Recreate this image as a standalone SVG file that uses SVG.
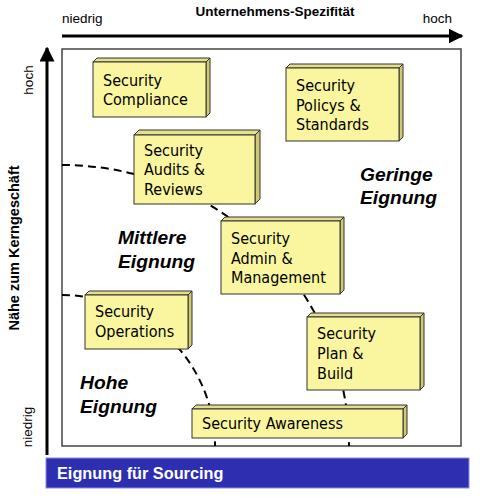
<svg xmlns="http://www.w3.org/2000/svg" width="482" height="502" viewBox="0 0 482 502">
<style>
.ax{font-family:"Liberation Sans",Arial,sans-serif;font-size:13.5px;fill:#000}
.axb{font-family:"Liberation Sans",Arial,sans-serif;font-size:13.5px;font-weight:bold;fill:#000}
.bx{font-family:"DejaVu Sans Condensed","DejaVu Sans",sans-serif;font-stretch:condensed;font-size:16px;fill:#000}
.rg{font-family:"Liberation Sans",Arial,sans-serif;font-size:17.5px;font-weight:bold;font-style:italic;fill:#000}
.front{fill:#FAF6A0;stroke:#333;stroke-width:1}
.top{fill:#E4DF8C;stroke:#333;stroke-width:1}
.side{fill:#CFC973;stroke:#333;stroke-width:1}
.dash{fill:none;stroke:#000;stroke-width:2;stroke-dasharray:8 5}
</style>
<defs>
<marker id="ah" viewBox="0 0 10 10" refX="9" refY="5" markerWidth="5" markerHeight="5" markerUnits="strokeWidth" orient="auto">
<path d="M0,0 L10,5 L0,10 z" fill="#000"/>
</marker>
</defs>
<rect width="482" height="502" fill="#fff"/>

<!-- axes -->
<g id="axes">
<line x1="62" y1="36" x2="462" y2="36" stroke="#000" stroke-width="3" marker-end="url(#ah)"/>
<line x1="47" y1="455" x2="47" y2="48" stroke="#000" stroke-width="3" marker-end="url(#ah)"/>
<text class="axb" x="275" y="16" text-anchor="middle">Unternehmens-Spezifität</text>
<text class="ax" x="62" y="23">niedrig</text>
<text class="ax" x="452" y="23" text-anchor="end">hoch</text>
<text class="ax" transform="translate(33,80) rotate(-90)" text-anchor="middle">hoch</text>
<text class="ax" transform="translate(32,427) rotate(-90)" text-anchor="middle">niedrig</text>
<text class="axb" style="font-size:14.5px" transform="translate(19,248) rotate(-90)" text-anchor="middle">Nähe zum Kerngeschäft</text>
</g>

<!-- frame -->
<rect id="frame" x="62" y="49" width="399" height="397" fill="#fff" stroke="#444" stroke-width="1.5"/>

<!-- connectors (dashed boundaries) -->
<g id="connectors">
<path class="dash" d="M62,165 A287,281 0 0 1 349,446"/>
<path class="dash" d="M62,295 A153,151 0 0 1 215,446"/>
</g>

<!-- region labels -->
<g id="region-geringe">
<text class="rg" transform="translate(360,181) scale(1.1,1)">Geringe</text>
<text class="rg" transform="translate(360,204) scale(1.1,1)">Eignung</text>
</g>
<g id="region-mittlere">
<text class="rg" transform="translate(118,244) scale(1.1,1)">Mittlere</text>
<text class="rg" transform="translate(118,268) scale(1.1,1)">Eignung</text>
</g>
<g id="region-hohe">
<text class="rg" transform="translate(80,389) scale(1.1,1)">Hohe</text>
<text class="rg" transform="translate(80,413) scale(1.1,1)">Eignung</text>
</g>

<!-- boxes -->
<g id="compliance">
<polygon class="top" points="93,62 97,58 210,58 206,62"/>
<polygon class="side" points="206,62 210,58 210,113 206,117"/>
<rect class="front" x="93" y="62" width="113" height="55"/>
<text class="bx" x="103" y="86">Security</text>
<text class="bx" x="103" y="105">Compliance</text>
</g>

<g id="policys">
<polygon class="top" points="286,68 290,64 403,64 399,68"/>
<polygon class="side" points="399,68 403,64 403,137 399,141"/>
<rect class="front" x="286" y="68" width="113" height="73"/>
<text class="bx" x="296" y="91">Security</text>
<text class="bx" x="296" y="111">Policys &amp;</text>
<text class="bx" x="296" y="130">Standards</text>
</g>

<g id="audits">
<polygon class="top" points="134,135 139,130 260,130 255,135"/>
<polygon class="side" points="255,135 260,130 260,199 255,204"/>
<rect class="front" x="134" y="135" width="121" height="69"/>
<text class="bx" x="144" y="156">Security</text>
<text class="bx" x="144" y="175">Audits &amp;</text>
<text class="bx" x="144" y="195">Reviews</text>
</g>

<g id="admin">
<polygon class="top" points="221,221 225,217 344,217 340,221"/>
<polygon class="side" points="340,221 344,217 344,290 340,294"/>
<rect class="front" x="221" y="221" width="119" height="73"/>
<text class="bx" x="231" y="244">Security</text>
<text class="bx" x="231" y="264">Admin &amp;</text>
<text class="bx" x="231" y="283">Management</text>
</g>

<g id="operations">
<polygon class="top" points="85,295 89,291 192,291 188,295"/>
<polygon class="side" points="188,295 192,291 192,345 188,349"/>
<rect class="front" x="85" y="295" width="103" height="54"/>
<text class="bx" x="95" y="317">Security</text>
<text class="bx" x="95" y="337">Operations</text>
</g>

<g id="plan">
<polygon class="top" points="307,317 311,313 424,313 420,317"/>
<polygon class="side" points="420,317 424,313 424,386 420,390"/>
<rect class="front" x="307" y="317" width="113" height="73"/>
<text class="bx" x="317" y="339">Security</text>
<text class="bx" x="317" y="359">Plan &amp;</text>
<text class="bx" x="317" y="379">Build</text>
</g>

<g id="awareness">
<polygon class="top" points="192,409 196,405 407,405 403,409"/>
<polygon class="side" points="403,409 407,405 407,434 403,438"/>
<rect class="front" x="192" y="409" width="211" height="29"/>
<text class="bx" x="202" y="429">Security Awareness</text>
</g>

<!-- bottom bar -->
<g id="sourcing">
<rect x="46" y="458" width="423" height="30" fill="#2D2FB0" stroke="#8A8CE0" stroke-width="1"/>
<text x="57" y="479" font-family="'Liberation Sans',Arial,sans-serif" font-size="16.3px" font-weight="bold" fill="#fff">Eignung für Sourcing</text>
</g>
</svg>
